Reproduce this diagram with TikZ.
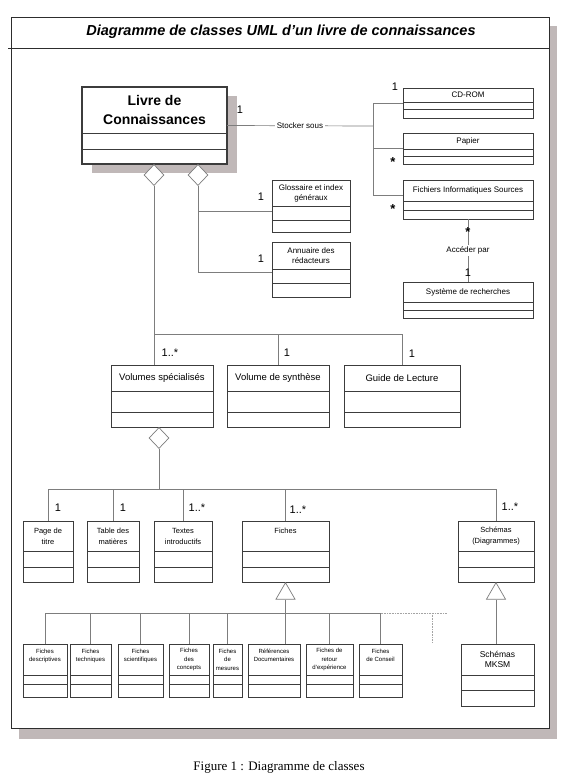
\documentclass[tikz,border=0pt]{standalone}
\usepackage{fontspec}
\setmainfont{Liberation Sans}
\newfontfamily\figfont{Liberation Serif}
\usetikzlibrary{shapes.geometric}
\definecolor{shadowgray}{RGB}{192,184,184}
\definecolor{framegray}{RGB}{45,45,45}
\definecolor{boxgray}{RGB}{60,60,60}
\definecolor{linegray}{RGB}{125,125,125}
\tikzset{
  classbox/.style={draw=boxgray, fill=white, line width=0.7pt, inner sep=0pt, outer sep=0pt},
  compline/.style={draw=boxgray, line width=0.7pt},
  assoc/.style={draw=linegray, line width=0.7pt},
  dotline/.style={draw=linegray!70, line width=0.6pt, densely dotted},
  bigname/.style={font=\bfseries\fontsize{14}{19}\selectfont, align=center, inner sep=0pt},
  midname/.style={font=\fontsize{9.5}{11}\selectfont, inner sep=0pt},
  clsname/.style={font=\fontsize{8}{10}\selectfont, align=center, inner sep=0pt},
  subname/.style={font=\fontsize{7.5}{11}\selectfont, align=center, inner sep=0pt},
  tinyname/.style={font=\fontsize{6}{8.5}\selectfont, align=center, inner sep=0pt},
  mksmname/.style={font=\fontsize{8.5}{10}\selectfont, align=center, inner sep=0pt},
  mult/.style={font=\fontsize{11}{11}\selectfont, inner sep=0pt},
  starmult/.style={font=\bfseries\fontsize{13}{13}\selectfont, inner sep=0pt},
  rolelabel/.style={font=\fontsize{8}{8}\selectfont, fill=white, inner sep=1.5pt},
  aggr/.style={diamond, draw=linegray, fill=white, line width=0.7pt, minimum width=20pt, minimum height=21pt, inner sep=0pt},
  gen/.style={regular polygon, regular polygon sides=3, draw=linegray, fill=white, line width=0.7pt, minimum size=22pt, inner sep=0pt},
}
\newcommand{\umlclass}[9]{%
  \node[classbox, anchor=north west, minimum width={(#4-#2)*1pt}, minimum height={(#5-#3)*1pt}] (#1) at (#2,#3) {};
  \draw[compline] (#2,#6) -- (#4,#6) (#2,#7) -- (#4,#7);
  \node[#8] (#1-name) at ({(#2+#4)/2},{(#3+#6)/2}) {#9};
}

\begin{document}
\begin{tikzpicture}[x=1pt,y=-1pt]
\useasboundingbox (0,0) rectangle (567,780);

\fill[shadowgray] (19,26) rectangle (557,739);
\draw[framegray, fill=white, line width=1pt] (11,17) rectangle (549,728);
\draw[framegray, line width=0.8pt] (8,48) -- (549,48);
\node[font=\bfseries\itshape\fontsize{14.5}{14.5}\selectfont] (title) at (281,32) {Diagramme de classes UML d'un livre de connaissances};
\node[font=\figfont\fontsize{13}{13}\selectfont] (caption) at (279,767) {Figure 1 : Diagramme de classes};

\fill[shadowgray] (92,96) rectangle (237,173);
\umlclass{livre}{82}{87}{227}{164}{133}{149}{bigname}{Livre de\\Connaissances}
\draw[boxgray, line width=1.1pt] (livre.north west) rectangle (livre.south east);

\umlclass{cdrom}{403}{88}{533}{118}{102}{109}{clsname}{CD-ROM}
\umlclass{papier}{403}{133}{533}{164}{149}{156}{clsname}{Papier}
\umlclass{fis}{403}{180}{533}{219}{201}{210}{clsname}{Fichiers Informatiques Sources}
\umlclass{sys}{403}{282}{533}{318}{302}{310}{clsname}{Système de recherches}
\umlclass{glo}{272}{180}{350}{232}{206}{220}{clsname}{Glossaire et index\\généraux}
\umlclass{ann}{272}{242}{350}{297}{269}{283}{clsname}{Annuaire des\\rédacteurs}

\umlclass{vol}{111}{365}{213}{427}{391}{412}{midname}{Volumes spécialisés}
\umlclass{syn}{227}{365}{329}{427}{391}{412}{midname}{Volume de synthèse}
\umlclass{guide}{344}{365}{460}{427}{391}{412}{midname}{Guide de Lecture}

\umlclass{page}{23}{521}{73}{582}{551}{567}{subname}{Page de\\titre}
\umlclass{table}{87}{521}{139}{582}{551}{567}{subname}{Table des\\matières}
\umlclass{textes}{154}{521}{212}{582}{551}{567}{subname}{Textes\\introductifs}
\umlclass{fiches}{242}{521}{329}{582}{551}{567}{subname}{Fiches\\\mbox{}}
\umlclass{schemas}{458}{521}{534}{582}{551}{567}{subname}{Schémas\\(Diagrammes)}

\umlclass{fdesc}{23}{644}{67}{697}{675}{684}{tinyname}{Fiches\\descriptives\\\mbox{}}
\umlclass{ftech}{70}{644}{111}{697}{675}{684}{tinyname}{Fiches\\techniques\\\mbox{}}
\umlclass{fsci}{118}{644}{163}{697}{675}{684}{tinyname}{Fiches\\scientifiques\\\mbox{}}
\umlclass{fconc}{169}{644}{209}{697}{675}{684}{tinyname}{Fiches\\des\\concepts}
\umlclass{fmes}{213}{644}{242}{697}{675}{684}{tinyname}{Fiches\\de\\mesures}
\umlclass{fref}{248}{644}{300}{697}{675}{684}{tinyname}{Références\\Documentaires\\\mbox{}}
\umlclass{fretour}{306}{644}{353}{697}{675}{684}{tinyname}{Fiches de\\retour\\d'expérience}
\umlclass{fcons}{359}{644}{402}{697}{675}{684}{tinyname}{Fiches\\de Conseil\\\mbox{}}
\umlclass{mksm}{461}{644}{534}{706}{675}{690}{mksmname}{Schémas\\MKSM}

\coordinate (stk) at (373,126);
\coordinate (brtop) at (373,103);
\coordinate (brbot) at (373,195);
\draw[assoc] (livre.east) -- node[rolelabel] (stocker) {Stocker sous} (stk);
\draw[assoc] (cdrom.west) -- (brtop) -- (brbot) -- (fis.west |- brbot);
\draw[assoc] (papier.west -| brtop) -- (papier.west);
\draw[assoc] (fis.south) -- node[rolelabel] (acceder) {Accéder par} (sys.north);

\node[aggr] (dl) at (154,175) {};
\node[aggr] (dr) at (198,175) {};
\draw[assoc] (dr.south) |- ([yshift=-5pt]glo.west);
\draw[assoc] (dr.south) |- ([yshift=-2.5pt]ann.west);

\coordinate (bus1) at (154,334);
\draw[assoc] (dl.south) -- (dl.south |- vol.north);
\draw[assoc] (bus1) -| (guide.north);
\draw[assoc] (syn.north |- bus1) -- (syn.north);

\node[aggr] (dv) at (159,438) {};
\coordinate (bus2) at (159,489);
\draw[assoc] (dv.south) -- (bus2);
\draw[assoc] (page.north) |- (schemas.north |- bus2) -- (schemas.north);
\foreach \c in {table,textes,fiches}
  \draw[assoc] (\c.north |- bus2) -- (\c.north);

\node[gen, anchor=corner 1] (tf) at (fiches.south) {};
\node[gen, anchor=corner 1] (ts) at (schemas.south) {};
\coordinate (bus3) at (285,613);
\draw[assoc] (tf.side 2) -- (tf.side 2 |- fref.north);
\draw[assoc] (fdesc.north) |- (fcons.north |- bus3) -- (fcons.north);
\foreach \f in {ftech,fsci,fconc,fmes,fretour}
  \draw[assoc] (\f.north |- bus3) -- (\f.north);
\coordinate (dotend) at (447,613);
\coordinate (dotdrop) at (432,613);
\coordinate (dotfoot) at (432,643);
\draw[dotline] (fcons.north |- bus3) -- (dotend);
\draw[dotline] (dotdrop) -- (dotfoot);
\draw[assoc] (ts.side 2) -- (ts.side 2 |- mksm.north);

\node[mult] (m-livre) at (240,110) {1};
\node[mult] (m-cdrom) at (395,87) {1};
\node[starmult] (m-papier) at (393,162) {*};
\node[starmult] (m-fis) at (393,209) {*};
\node[starmult] (m-fis2) at (468,232) {*};
\node[mult] (m-sys) at (468,273) {1};
\node[mult] (m-glo) at (261,197) {1};
\node[mult] (m-ann) at (261,259) {1};
\node[mult] (m-vol) at (170,353) {1..*};
\node[mult] (m-syn) at (287,353) {1};
\node[mult] (m-guide) at (412,354) {1};
\node[mult] (m-page) at (58,508) {1};
\node[mult] (m-table) at (123,508) {1};
\node[mult] (m-textes) at (197,508) {1..*};
\node[mult] (m-fiches) at (298,510) {1..*};
\node[mult] (m-schemas) at (510,507) {1..*};
\end{tikzpicture}
\end{document}
